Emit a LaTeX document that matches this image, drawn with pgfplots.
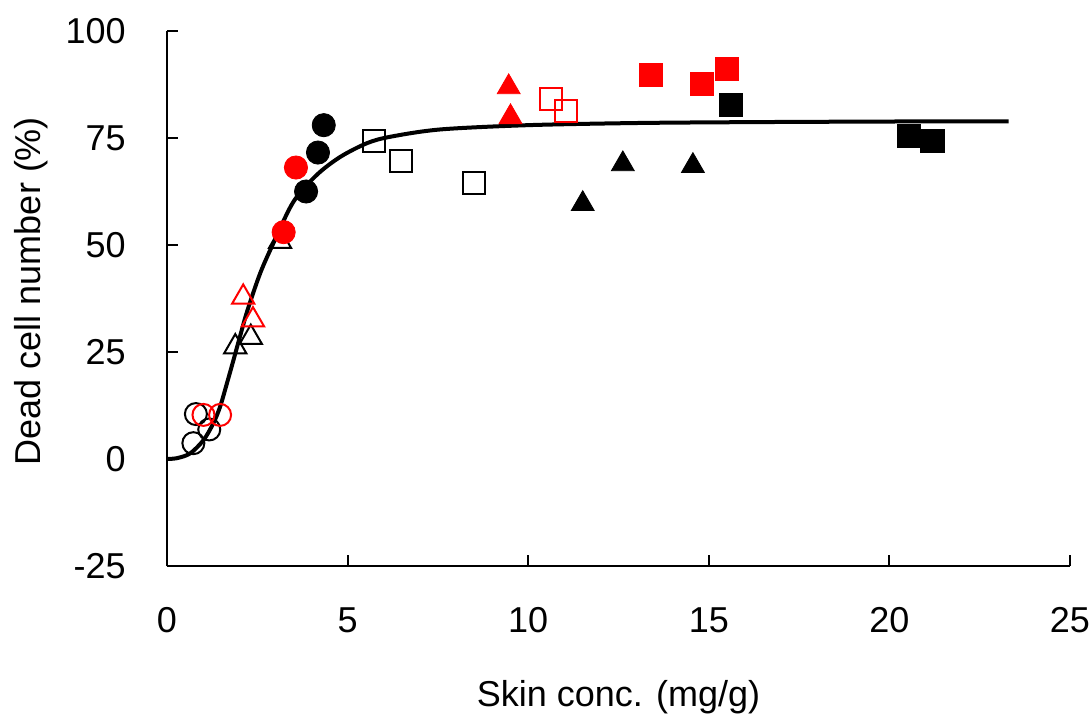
\documentclass[border=0pt]{standalone}
\usepackage{fontspec}
\setmainfont{Liberation Sans}
\usepackage{pgfplots}
\pgfplotsset{compat=1.18}
\definecolor{ptRed}{HTML}{FF0000}
\newcommand{\chartfont}{\fontsize{18bp}{21bp}\selectfont}

% fitted curve
\pgfplotstableread{
x y
0 0
0.28 0.2
0.64 1.3
1.01 4.4
1.28 8.3
1.47 12.2
1.66 17.7
1.84 23.1
2.02 28.6
2.23 34.8
2.58 43.4
2.95 50.5
3.5 60.1
4.15 66.4
4.8 70.6
5.54 73.8
6.19 75.3
7.57 77.0
10 78.0
13 78.5
16 78.7
20 78.85
23.3 78.9
}\fitcurve
\usepackage{pgfplotstable}

\begin{document}
\begin{tikzpicture}
\useasboundingbox (-83.5bp,-77bp) rectangle (461bp,283bp);
\begin{axis}[
  scale only axis,
  width=451.5bp, height=267.5bp,
  xmin=0, xmax=25, ymin=-25, ymax=100,
  xtick={0,5,...,25}, ytick={-25,0,25,50,75,100},
  axis lines=left,
  axis line style={-, line width=1bp, black},
  tick style={line width=1bp, black},
  tick align=inside,
  major tick length=5.5bp,
  /pgf/number format/assume math mode=true,
  tick label style={font=\chartfont, inner sep=0pt},
  xticklabel style={anchor=center, yshift=-27bp},
  yticklabel style={anchor=east, xshift=-20.5bp},
  clip=false,
]
\addplot[black, line width=2bp, smooth, no marks] table {\fitcurve};

% open black circles
\addplot[only marks, mark=o, mark size=5.5bp, mark options={draw=black, line width=1bp}]
  coordinates {(0.80,10.5) (0.73,3.7) (1.17,6.9)};
% open red circles
\addplot[only marks, mark=o, mark size=5.5bp, mark options={draw=ptRed, line width=1bp}]
  coordinates {(1.01,10.3) (1.47,10.3)};
% open black triangles
\addplot[only marks, mark=triangle, mark size=6.4bp, mark options={draw=black, line width=1bp}]
  coordinates {(1.89,26.2) (2.32,28.4) (3.13,50.8)};
% open red triangles
\addplot[only marks, mark=triangle, mark size=6.4bp, mark options={draw=ptRed, line width=1bp}]
  coordinates {(2.11,37.8) (2.38,32.5)};
% filled black circles
\addplot[only marks, mark=*, mark size=5.8bp, mark options={draw=black, fill=black}]
  coordinates {(3.85,62.5) (4.18,71.6) (4.34,78.0)};
% filled red circles
\addplot[only marks, mark=*, mark size=5.8bp, mark options={draw=ptRed, fill=ptRed}]
  coordinates {(3.23,53.0) (3.57,68.1)};
% open black squares
\addplot[only marks, mark=square, mark size=5.5bp, mark options={draw=black, line width=1bp}]
  coordinates {(5.72,74.4) (6.49,69.7) (8.49,64.5)};
% open red squares
\addplot[only marks, mark=square, mark size=5.5bp, mark options={draw=ptRed, line width=1bp}]
  coordinates {(10.62,84.1) (11.04,81.3)};
% filled red triangles
\addplot[only marks, mark=triangle*, mark size=6.6bp, mark options={draw=ptRed, fill=ptRed}]
  coordinates {(9.46,86.9) (9.51,79.9)};
% filled black triangles
\addplot[only marks, mark=triangle*, mark size=6.6bp, mark options={draw=black, fill=black}]
  coordinates {(11.51,59.6) (12.62,68.9) (14.56,68.5)};
% filled red squares
\addplot[only marks, mark=square*, mark size=5.8bp, mark options={draw=ptRed, fill=ptRed}]
  coordinates {(13.40,89.7) (14.81,87.6) (15.50,91.1)};
% filled black squares
\addplot[only marks, mark=square*, mark size=5.8bp, mark options={draw=black, fill=black}]
  coordinates {(15.62,82.7) (20.53,75.5) (21.19,74.3)};
\end{axis}
\node[rotate=90, inner sep=0pt, font=\chartfont] at (-67.7bp,137.5bp) {Dead cell number (\%)};
\node[inner sep=0pt, font=\chartfont] at (225.75bp,-65.5bp) {Skin conc. (mg/g)};
\end{tikzpicture}
\end{document}
